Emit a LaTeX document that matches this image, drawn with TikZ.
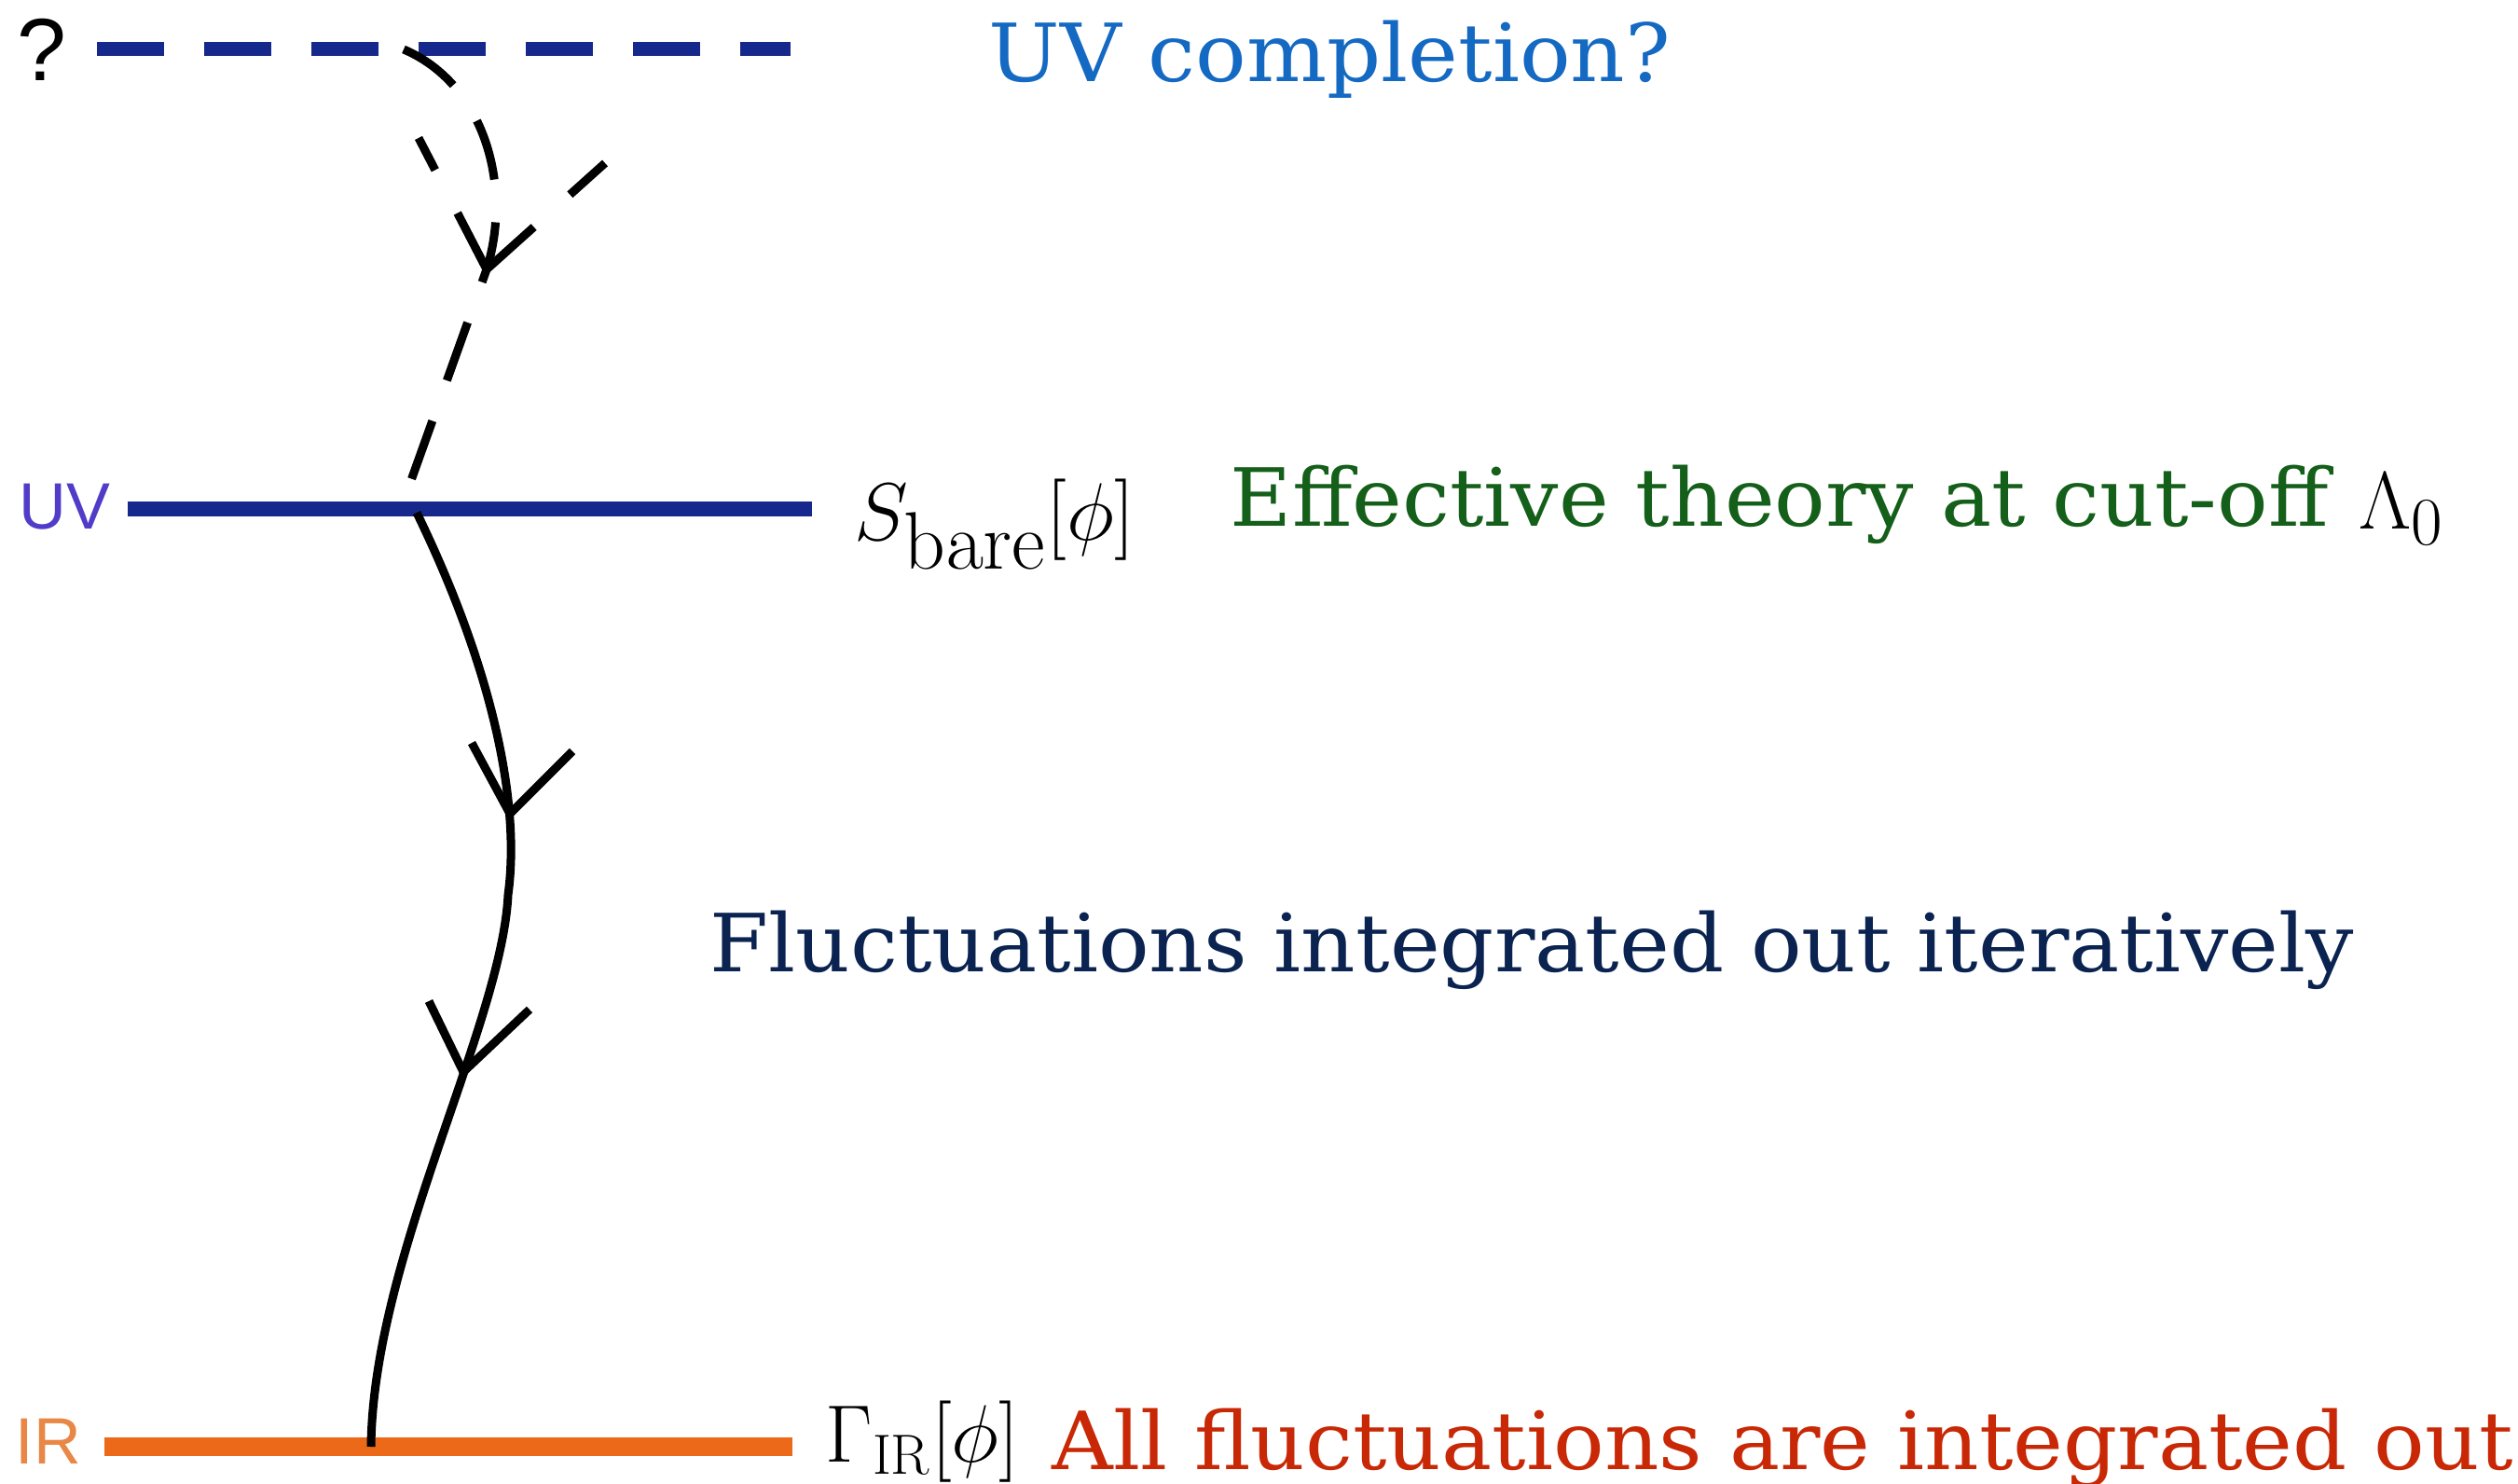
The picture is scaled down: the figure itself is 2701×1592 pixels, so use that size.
\documentclass[tikz,border=0pt]{standalone}
\usepackage[no-math]{fontspec}
\usepackage{amsmath}
\newfontfamily\slabfont[FakeStretch=1.055]{DejaVu Serif}
\newfontfamily\helvfont{Liberation Sans}

\definecolor{linenavy}{RGB}{22,40,140}
\definecolor{uvpurple}{RGB}{80,60,200}
\definecolor{irorange}{RGB}{235,105,25}
\definecolor{irlight}{RGB}{232,135,70}
\definecolor{uvblue}{RGB}{20,105,195}
\definecolor{efftgreen}{RGB}{20,95,25}
\definecolor{flucnavy}{RGB}{10,35,80}
\definecolor{allred}{RGB}{200,40,5}

\begin{document}
\begin{tikzpicture}[
    x=0.01cm, y=-0.01cm,
    every node/.style={inner sep=0pt, anchor=base west},
    slabtext/.style={font=\slabfont\fontsize{24.5}{29}\selectfont},
    scalelabel/.style={font=\helvfont\fontsize{20}{24}\selectfont},
    flow/.style={line width=0.09cm, black}
]
\useasboundingbox (0,0) rectangle (2701,1592);

% ===== SCALES =====
% --- unknown UV completion (dashed) ---
\draw[line width=0.15cm, linenavy, dash pattern=on 0.72cm off 0.43cm] (104,53) -- (848,53);
\node[font=\helvfont\fontsize{27}{32}\selectfont] (qmark) at (18,87) {?};

% --- UV cut-off ---
\draw[line width=0.16cm, linenavy] (137,546) -- (871,546);
\node[scalelabel, text=uvpurple] (uvlab) at (20,568) {UV};

% --- IR ---
\draw[line width=0.2cm, irorange] (112,1552) -- (850,1552);
\node[scalelabel, text=irlight] (irlab) at (16,1570) {IR};

% ===== FLOWS =====
\coordinate (topstart) at (433,53);
\coordinate (uvend) at (430,546);
\coordinate (uvjoin) at (447,550);
\coordinate (irjoin) at (398,1552);

% --- dashed flow down to the UV scale ---
\draw[flow, dash pattern=on 0.66cm off 0.46cm]
    (topstart) .. controls (520,90) and (550,200) .. (522,289) -- (uvend);
\draw[flow, dash pattern=on 0.68cm off 0.52cm] (522,289) -- (449,148);
\draw[flow, dash pattern=on 0.68cm off 0.52cm] (522,289) -- (649,175);

% --- solid flow from UV to IR ---
\draw[flow] (uvjoin) .. controls (520,700) and (560,850) .. (545,960)
    .. controls (538,1100) and (400,1350) .. (irjoin);
\draw[flow] (506,797) -- (547,873) -- (614,806);
\draw[flow] (460,1074) -- (497,1150) -- (568,1083);

% ===== LABELS =====
\node[slabtext, text=uvblue] (uvcomp) at (1060,88) {UV completion?};

\node[font=\fontsize{33}{38}\selectfont] (sbare) at (916,580) {$S_{\mathrm{bare}}[\phi]$};
\node[slabtext, text=efftgreen] (efft) at (1319,565) {Effective theory at cut-off};
\node[font=\fontsize{31}{36}\selectfont] (lambda) at (2530,568) {$\Lambda_0$};

\node[slabtext, text=flucnavy] (iter) at (761,1042) {Fluctuations integrated out iteratively};

\node[font=\fontsize{24}{28}\selectfont] (gammair) at (885,1568) {$\Gamma_{\mathrm{IR}}[\phi]$};
\node[slabtext, text=allred] (allout) at (1128,1576) {All fluctuations are integrated out};

\end{tikzpicture}
\end{document}
